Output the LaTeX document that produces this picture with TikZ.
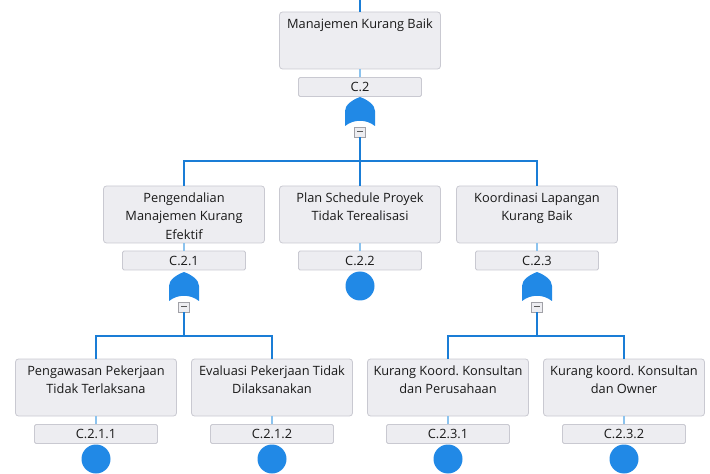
\documentclass[tikz,border=0pt]{standalone}
\usepackage{fontspec}
\setmainfont{Open Sans}
\frenchspacing
\definecolor{boxfill}{HTML}{EDEDF1}
\definecolor{boxline}{HTML}{C9C9D1}
\definecolor{gateblue}{HTML}{2189E6}
\definecolor{busblue}{HTML}{1A7DD6}
\definecolor{lightblue}{HTML}{8CC3EE}
\tikzset{
  evbox/.style={draw=boxline, fill=boxfill, rounded corners=3bp, line width=0.8bp, minimum width=161bp, minimum height=57bp, inner sep=0pt},
  evtext/.style={anchor=north, inner sep=0pt, align=center, font=\fontsize{12.8bp}{18.5bp}\selectfont, text=black!90},
  lbl/.style={draw=boxline, fill=boxfill, rounded corners=1.5bp, line width=0.8bp, minimum width=123bp, minimum height=19bp, inner sep=0pt, font=\fontsize{12.8bp}{14bp}\selectfont, text=black!90},
  bus/.style={draw=busblue, line width=2.4bp},
  thin/.style={draw=lightblue, line width=2bp},
  minusbox/.style={draw=boxline!80!black, fill=boxfill, minimum width=11bp, minimum height=10bp, inner sep=0pt},
  basic/.style={circle, fill=gateblue, minimum size=29bp, inner sep=0pt}
}
\newcommand\orgate[3]{%
  \fill[gateblue] (#2,#3) .. controls (#2+8,#3+3) and (#2+15,#3+8) .. (#2+15,#3+14)
    -- (#2+15,#3+29) .. controls (#2+6,#3+22) and (#2-6,#3+22) .. (#2-15,#3+29)
    -- (#2-15,#3+14) .. controls (#2-15,#3+8) and (#2-8,#3+3) .. (#2,#3) -- cycle;
  \node[minusbox] (#1) at (#2,#3+35) {};
  \draw[gray!70!black, line width=1bp] (#2-3,#3+35) -- (#2+3,#3+35);
}
\begin{document}
\begin{tikzpicture}[x=1bp, y=-1bp]
\useasboundingbox (0,0) rectangle (710,474);
% top
\node[evbox] (b0) at (360,40.5) {};
\node[evtext] (b0t) at (360,18.5) {Manajemen Kurang Baik};
\node[lbl] (l0) at (360,87) {C.2};
\coordinate (top) at (360,0);
\draw[bus] (top) -- (b0.north);
\draw[thin] (b0.south) -- (l0.north);
\orgate{m0}{360}{97}
% level 2
\node[evbox] (b1) at (184,214.5) {};
\node[evtext] (b1t) at (184,192.5) {Pengendalian\\Manajemen Kurang\\Efektif};
\node[lbl] (l1) at (184,260.5) {C.2.1};
\node[evbox] (b2) at (360,214.5) {};
\node[evtext] (b2t) at (360,192.5) {Plan Schedule Proyek\\Tidak Terealisasi};
\node[lbl] (l2) at (360,260.5) {C.2.2};
\node[evbox] (b3) at (537,214.5) {};
\node[evtext] (b3t) at (537,192.5) {Koordinasi Lapangan\\Kurang Baik};
\node[lbl] (l3) at (537,260.5) {C.2.3};
\draw[thin] (b1.south) -- (l1.north);
\draw[thin] (b2.south) -- (l2.north);
\draw[thin] (b3.south) -- (l3.north);
\coordinate (j0) at (360,161);
\draw[bus] (m0.south) -- (j0);
\draw[bus] (b1.north) |- (j0) -| (b3.north);
\draw[bus] (j0) -- (b2.north);
\node[basic] (c2) at (360,286) {};
\orgate{m1}{184}{272}
\orgate{m3}{537}{272}
% level 3
\node[evbox] (b11) at (96,387.5) {};
\node[evtext] (b11t) at (96,365.5) {Pengawasan Pekerjaan\\Tidak Terlaksana};
\node[lbl] (l11) at (96,434) {C.2.1.1};
\node[evbox] (b12) at (272,387.5) {};
\node[evtext] (b12t) at (272,365.5) {Evaluasi Pekerjaan Tidak\\Dilaksanakan};
\node[lbl] (l12) at (272,434) {C.2.1.2};
\node[evbox] (b31) at (448,387.5) {};
\node[evtext] (b31t) at (448,365.5) {Kurang Koord. Konsultan\\dan Perusahaan};
\node[lbl] (l31) at (448,434) {C.2.3.1};
\node[evbox] (b32) at (624,387.5) {};
\node[evtext] (b32t) at (624,365.5) {Kurang koord. Konsultan\\dan Owner};
\node[lbl] (l32) at (624,434) {C.2.3.2};
\foreach \n in {11,12,31,32} {\draw[thin] (b\n.south) -- (l\n.north);}
\coordinate (j1) at (184,336);
\coordinate (j3) at (537,336);
\draw[bus] (m1.south) -- (j1);
\draw[bus] (b11.north) |- (j1) -| (b12.north);
\draw[bus] (m3.south) -- (j3);
\draw[bus] (b31.north) |- (j3) -| (b32.north);
\node[basic] (c11) at (96,459) {};
\node[basic] (c12) at (272,459) {};
\node[basic] (c31) at (448,459) {};
\node[basic] (c32) at (624,459) {};
\end{tikzpicture}
\end{document}
